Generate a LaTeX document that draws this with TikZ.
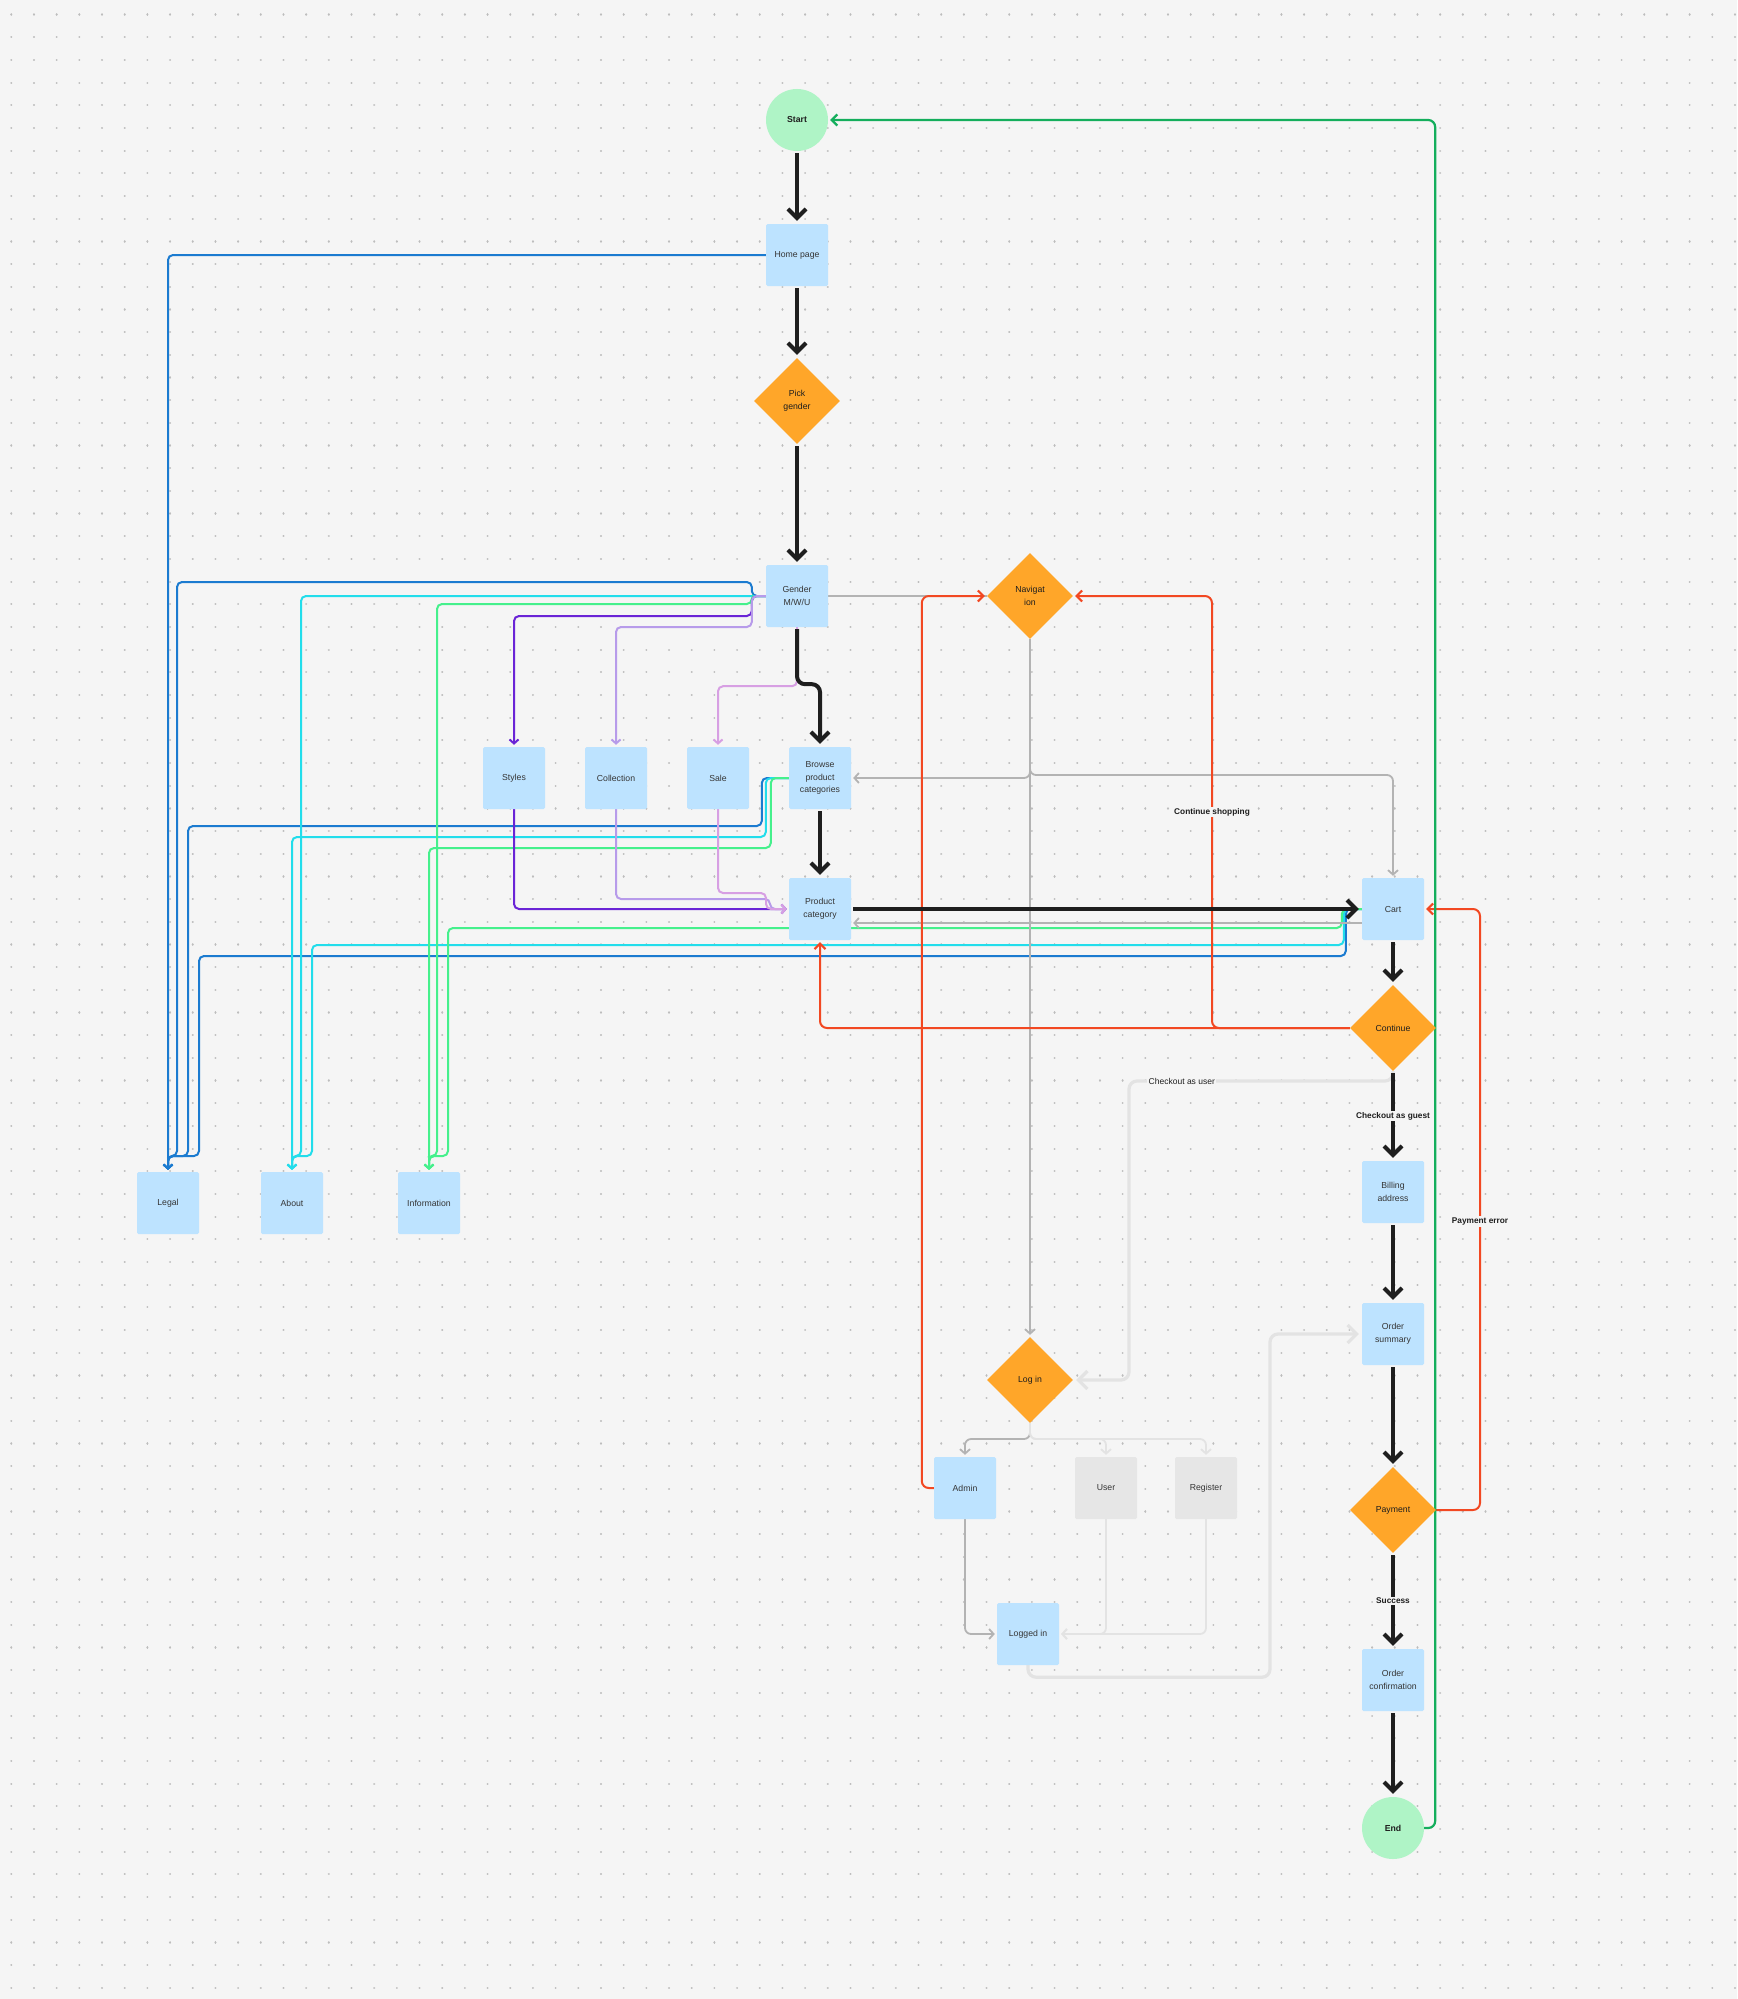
\documentclass[tikz,border=0pt]{standalone}
\usepackage{fontspec}
\setmainfont{Liberation Sans}
\usetikzlibrary{arrows.meta,shapes.geometric,positioning}

\definecolor{canvas}{HTML}{F5F5F5}
\definecolor{griddot}{HTML}{BDBDBD}
\definecolor{ink}{HTML}{1E1E1E}
\definecolor{boxblue}{HTML}{BDE3FF}
\definecolor{boxgrey}{HTML}{E6E6E6}
\definecolor{decision}{HTML}{FFA629}
\definecolor{termgreen}{HTML}{AFF4C6}
\definecolor{errred}{HTML}{F24822}
\definecolor{loopgreen}{HTML}{14AE5C}
\definecolor{linkblue}{HTML}{1B7BD0}
\definecolor{linkcyan}{HTML}{22DDEB}
\definecolor{linkmint}{HTML}{45F08C}
\definecolor{linkviolet}{HTML}{6A24D6}
\definecolor{linklilac}{HTML}{B79BEA}
\definecolor{linkpink}{HTML}{D79FE3}
\definecolor{midgrey}{HTML}{B3B3B3}
\definecolor{softgrey}{HTML}{E3E3E3}

\pgfdeclarelayer{grid}
\pgfdeclarelayer{links}
\pgfsetlayers{grid,links,main}

\begin{document}
\begin{tikzpicture}[x=1pt, y=-1pt, node distance=100pt,
    page/.style={rectangle, fill=boxblue, minimum width=62pt, minimum height=62pt,
        rounded corners=1.5pt, align=center, text=ink!90,
        font=\fontsize{8.7}{12.7}\selectfont},
    greypage/.style={page, fill=boxgrey},
    choice/.style={diamond, fill=decision, minimum width=86pt, minimum height=86pt,
        inner sep=0pt, align=center, text=ink, font=\fontsize{8.7}{12.7}\selectfont},
    startend/.style={circle, fill=termgreen, minimum size=62pt, inner sep=0pt,
        text=ink, font=\bfseries\fontsize{8.7}{12.7}\selectfont},
    dots/.style={draw=griddot, line width=2.2pt, line cap=round,
        dash pattern=on 0.01pt off 22.67pt},
    flow/.style={draw=ink, line width=4pt, -{Straight Barb[length=9pt,width=18pt]},
        shorten >=3pt, shorten <=2pt},
    link/.style={line width=2pt, rounded corners=5pt,
        -{Straight Barb[length=4pt,width=9pt]}, shorten >=2pt},
    greyline/.style={draw=midgrey, line width=1.8pt, rounded corners=6pt},
    greyarrow/.style={greyline, -{Straight Barb[length=4.5pt,width=10pt]}, shorten >=2pt},
    softarrow/.style={greyarrow, draw=softgrey},
    softthick/.style={draw=softgrey, line width=3.2pt, rounded corners=8pt,
        -{Straight Barb[length=9pt,width=18pt]}, shorten >=3pt},
    redlink/.style={draw=errred, line width=2pt, rounded corners=7pt,
        -{Straight Barb[length=5.5pt,width=11pt]}, shorten >=2pt},
    looplink/.style={draw=loopgreen, line width=2.2pt, rounded corners=7pt,
        -{Straight Barb[length=5.5pt,width=11pt]}, shorten >=2pt},
    lbl/.style={fill=canvas, text=ink, inner sep=1.5pt, rounded corners=0pt,
        font=\bfseries\fontsize{8.3}{10}\selectfont},
    plainlbl/.style={lbl, font=\fontsize{8.5}{10}\selectfont}]

    \useasboundingbox (0,0) rectangle (1737,1999);
    \begin{pgfonlayer}{grid}
        \fill[canvas] (0,0) rectangle (1737,1999);
        \foreach \row in {0,...,87}
            \draw[dots] (11.3,14.6+22.68*\row) -- (1737,14.6+22.68*\row);
    \end{pgfonlayer}

    \node (start) [startend] at (797,120) {Start};
    \node (home) [page, node distance=135pt, below of=start] {Home page};
    \node (pick) [choice, node distance=146pt, below of=home] {Pick\\gender};
    \node (gender) [page, node distance=195pt, below of=pick] {Gender\\M/W/U};
    \node (nav) [choice, node distance=233pt, right of=gender] {Navigat\\ion};

    \node (browse) [page, node distance=182pt, below of=gender, xshift=23pt] {Browse\\product\\categories};
    \node (sale) [page, node distance=102pt, left of=browse] {Sale};
    \node (collection) [page, node distance=102pt, left of=sale] {Collection};
    \node (styles) [page, node distance=102pt, left of=collection] {Styles};
    \node (prodcat) [page, node distance=131pt, below of=browse] {Product\\category};
    \node (cart) [page, node distance=573pt, right of=prodcat] {Cart};

    \node (cont) [choice, node distance=119pt, below of=cart] {Continue};
    \node (billing) [page, node distance=164pt, below of=cont] {Billing\\address};
    \node (summary) [page, node distance=142pt, below of=billing] {Order\\summary};
    \node (payment) [choice, node distance=176pt, below of=summary] {Payment};
    \node (confirm) [page, node distance=170pt, below of=payment] {Order\\confirmation};
    \node (finish) [startend, node distance=148pt, below of=confirm] {End};

    \node (login) [choice, node distance=784pt, below of=nav] {Log in};
    \node (admin) [page, node distance=108pt, below of=login, xshift=-65pt] {Admin};
    \node (user) [greypage, node distance=141pt, right of=admin] {User};
    \node (register) [greypage, node distance=100pt, right of=user] {Register};
    \node (loggedin) [page, node distance=146pt, below of=admin, xshift=63pt] {Logged in};

    \node (legal) [page] at (168,1203) {Legal};
    \node (about) [page, node distance=124pt, right of=legal] {About};
    \node (info) [page, node distance=137pt, right of=about] {Information};

    \begin{pgfonlayer}{links}
        \draw[link, linkblue] (home.west) -| (legal.north);
        \draw[link, linkblue] (gender.west) -- ++(-14,0) |- (177,582) |- (168,1156) -- (legal.north);
        \draw[link, linkblue] (browse.west) -- ++(-27,0) |- (188,826) |- (168,1156) -- (legal.north);
        \draw[link, linkblue] (cart.west) -- ++(-16,0) |- (199,956) |- (168,1156) -- (legal.north);

        \draw[link, linkcyan] (gender.west) -- (301,596) |- (292,1156) -- (about.north);
        \draw[link, linkcyan] (browse.west) -- ++(-23,0) |- (292,837) -- (about.north);
        \draw[link, linkcyan] (cart.west) -- ++(-18,0) |- (312,945) |- (292,1156) -- (about.north);

        \draw[link, linkmint] (gender.west) -- ++(-14,0) |- (437,604) |- (429,1156) -- (info.north);
        \draw[link, linkmint] (browse.west) -- ++(-18,0) |- (429,848) -- (info.north);
        \draw[link, linkmint] (cart.west) -- ++(-20,0) |- (448,928) |- (429,1156) -- (info.north);

        \draw[link, linkviolet] (gender.west) -- ++(-14,0) |- (514,616) -- (styles.north);
        \draw[link, linkviolet] (styles.south) |- (prodcat.west);
        \draw[link, linklilac] (gender.west) -- ++(-14,0) |- (616,627) -- (collection.north);
        \draw[link, linklilac] (collection.south) |- (770,899) |- (prodcat.west);
        \draw[link, linkpink] (gender.south) -- ++(0,59) -| (sale.north);
        \draw[link, linkpink] (sale.south) |- (766,893) |- (prodcat.west);

        \draw[greyline] (gender.east) -- (nav.west);
        \draw[greyarrow] (nav.south) -- (login.north);
        \draw[greyarrow] (nav.south) |- (browse.east);
        \draw[greyarrow] (nav.south) |- (1393,775) -- (cart.north);
        \draw[greyarrow] ([yshift=-14pt]cart.west) -- ([yshift=-14pt]prodcat.east);
        \draw[greyarrow] (login.south) |- (965,1439) -- (admin.north);
        \draw[softarrow] (login.south) |- (1106,1439) -- (user.north);
        \draw[softarrow] (login.south) |- (1206,1439) -- (register.north);
        \draw[greyarrow] (admin.south) |- (loggedin.west);
        \draw[softarrow] (user.south) |- (loggedin.east);
        \draw[softarrow] (register.south) |- (loggedin.east);
        \draw[softthick] (loggedin.south) -- ++(0,12) -| (1270,1334) -- (summary.west);
        \draw[softthick] (cont.south) |- node[plainlbl, pos=0.9] {Checkout as user} (1129,1081) |- (login.east);

        \draw[redlink] (admin.west) -- ++(-12,0) |- (nav.west);
        \draw[redlink] (cont.west) -- (1212,1028) |- node[lbl, pos=0.25] {Continue shopping} (nav.east);
        \draw[redlink] (cont.west) -| (prodcat.south);
        \draw[redlink] (payment.east) -- (1480,1510) |- node[lbl, pos=0.24] {Payment error} (cart.east);

        \draw[looplink] (finish.east) -- ++(11,0) |- (start.east);

        \draw[flow, rounded corners=8pt] (gender.south) -- ++(0,57) -| (browse.north);
        \path[flow]
            (start) edge (home)
            (home) edge (pick)
            (pick) edge (gender)
            (browse) edge (prodcat)
            (prodcat) edge (cart)
            (cart) edge (cont)
            (cont) edge node[lbl] {Checkout as guest} (billing)
            (billing) edge (summary)
            (summary) edge (payment)
            (payment) edge node[lbl] {Success} (confirm)
            (confirm) edge (finish)
        ;
    \end{pgfonlayer}
\end{tikzpicture}
\end{document}
